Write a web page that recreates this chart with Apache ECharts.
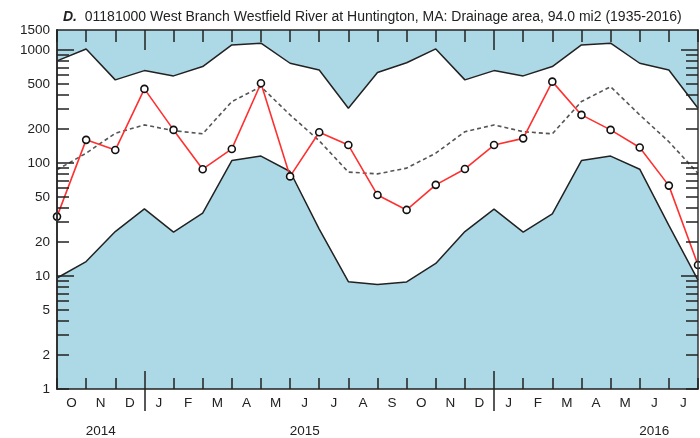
<!DOCTYPE html>
<html>
<head>
<meta charset="utf-8">
<script src="https://cdn.jsdelivr.net/npm/echarts@6/dist/echarts.min.js"></script>
<style>
  html, body { margin: 0; padding: 0; background: #fff; }
  #chart { width: 700px; height: 438px; }
</style>
</head>
<body>
<div id="chart"></div>
<script>
// month starts where the points sit (Oct 2014 .. Aug 2016)
const pointDates = ['2014-10', '2014-11', '2014-12', '2015-01', '2015-02', '2015-03', '2015-04', '2015-05',
  '2015-06', '2015-07', '2015-08', '2015-09', '2015-10', '2015-11', '2015-12', '2016-01', '2016-02',
  '2016-03', '2016-04', '2016-05', '2016-06', '2016-07', '2016-08']
// month labels sit between the ticks
const monthLabels = ['O', 'N', 'D', 'J', 'F', 'M', 'A', 'M', 'J', 'J', 'A', 'S', 'O', 'N', 'D', 'J', 'F', 'M', 'A', 'M', 'J', 'J']
const yearLabels = ['', '2014', '', '', '', '', '', '', '2015', '', '', '', '', '', '', '', '', '', '', '', '2016', '']

// flows, ft3/s
const observedFlow = [33.5, 160, 130, 452, 196, 88, 133, 507, 76, 187, 144, 52, 38.4, 64, 88.5, 144, 165, 524, 266, 196, 137, 63, 12.5]
const medianFlow = [87, 122, 183, 217, 193, 181, 349, 473, 266, 157, 83, 80, 90, 122, 189, 217, 189, 181, 349, 473, 266, 154, 81]
const maxFlow = [800, 1020, 543, 656, 589, 712, 1107, 1146, 762, 665, 305, 630, 770, 1020, 543, 656, 589, 712, 1107, 1146, 762, 665, 305]
const minFlow = [9.6, 13.4, 24.7, 39.2, 24.4, 35.9, 105, 115, 84, 26, 8.9, 8.4, 8.85, 12.9, 24.7, 39, 24.4, 35.5, 105, 115, 88, 28, 9.2]

const yTickLabels = [1, 2, 5, 10, 20, 50, 100, 200, 500, 1000, 1500]
const yTicks = [1, 2, 3, 4, 5, 6, 7, 8, 9, 10, 20, 30, 40, 50, 60, 70, 80, 90, 100, 200, 300, 400, 500, 600, 700, 800, 900, 1000]
const yDecades = [10, 100, 1000]

const FONT = 'Liberation Sans'
const INK = '#222'
const SKY = '#add8e6'

const isJan = (i) => !!pointDates[i] && pointDates[i].slice(5) === '01'

const chart = echarts.init(document.getElementById('chart'), null, { renderer: 'canvas' })

const yBase = {
  type: 'log', logBase: 10, min: 1, max: 1500, z: 10,
  splitLine: { show: false }, minorTick: { show: false },
  axisLine: { show: false }, axisLabel: { show: false }, axisTick: { show: false }
}
const tickAxis = (position, length, filter, extra) => Object.assign({
  type: 'category', position: position, data: pointDates, boundaryGap: false, z: 10,
  axisLine: { show: false, onZero: false }, axisLabel: { show: false }, splitLine: { show: false },
  axisTick: { show: true, inside: true, length: length, interval: filter, lineStyle: { color: INK, width: 1.5 } }
}, extra || {})
const bandAxis = (labels, margin) => ({
  type: 'category', position: 'bottom', data: labels, boundaryGap: true, z: 10,
  axisLine: { show: false, onZero: false }, axisTick: { show: false }, splitLine: { show: false },
  axisLabel: { show: true, interval: 0, margin: margin, color: INK, fontFamily: FONT, fontSize: 13.5 }
})

const option = {
  animation: false,
  backgroundColor: '#fff',
  title: {
    text: '{b|D.}  01181000 West Branch Westfield River at Huntington, MA: Drainage area, 94.0 mi2 (1935-2016)',
    left: 58, top: 5,
    textStyle: {
      fontFamily: FONT, fontSize: 14, fontWeight: 'normal', color: INK,
      rich: { b: { fontFamily: FONT, fontSize: 14, fontStyle: 'italic', fontWeight: 'bold', color: INK } }
    }
  },
  grid: {
    left: 57, right: 2, top: 30, bottom: 49,
    show: true, backgroundColor: SKY, borderWidth: 0,
    outerBoundsMode: 'none'
  },
  xAxis: [
    // data axis at the bottom with a tick at each month start
    tickAxis('bottom', 11, 0, { axisLine: { show: true, onZero: false, lineStyle: { color: INK, width: 1.5 } } }),
    bandAxis(monthLabels, 7),
    // year breaks, out below the axis and a little longer inside
    tickAxis('bottom', 22, (i) => isJan(i), { axisTick: { show: true, inside: false, length: 22, interval: (i) => isJan(i), lineStyle: { color: INK, width: 1.5 } } }),
    tickAxis('bottom', 18, (i) => isJan(i)),
    bandAxis(yearLabels, 35),
    tickAxis('top', 12, 0, { axisLine: { show: true, onZero: false, lineStyle: { color: INK, width: 1.5 } } }),
    tickAxis('top', 20, (i) => isJan(i))
  ],
  yAxis: [
    Object.assign({}, yBase, {
      position: 'left',
      axisLine: { show: true, lineStyle: { color: '#333', width: 2 } },
      axisLabel: {
        show: true, customValues: yTickLabels, margin: 7, color: INK, fontFamily: FONT, fontSize: 13.5,
        formatter: (v) => String(Math.round(v))
      },
      axisTick: { show: true, inside: true, length: 12, customValues: yTicks, lineStyle: { color: INK, width: 1.5 } }
    }),
    Object.assign({}, yBase, {
      position: 'left',
      axisTick: { show: true, inside: true, length: 17, customValues: yDecades, lineStyle: { color: INK, width: 1.5 } }
    }),
    Object.assign({}, yBase, {
      position: 'right',
      axisLine: { show: true, lineStyle: { color: '#333', width: 1.5 } },
      axisTick: { show: true, inside: true, length: 12, customValues: yTicks, lineStyle: { color: INK, width: 1.5 } }
    }),
    Object.assign({}, yBase, {
      position: 'right',
      axisTick: { show: true, inside: true, length: 17, customValues: yDecades, lineStyle: { color: INK, width: 1.5 } }
    })
  ],
  series: [
    {
      name: 'max', type: 'line', xAxisIndex: 0, yAxisIndex: 0, data: maxFlow, z: 2,
      symbol: 'none', lineStyle: { color: INK, width: 1.5 },
      areaStyle: { color: '#fff', opacity: 1, origin: 'start' }
    },
    {
      name: 'min', type: 'line', xAxisIndex: 0, yAxisIndex: 0, data: minFlow, z: 3,
      symbol: 'none', lineStyle: { color: INK, width: 1.5 },
      areaStyle: { color: SKY, opacity: 1, origin: 'start' }
    },
    {
      name: 'median', type: 'line', xAxisIndex: 0, yAxisIndex: 0, data: medianFlow, z: 4,
      symbol: 'none', lineStyle: { color: '#555', width: 1.6, type: [4, 3] }
    },
    {
      name: 'observed', type: 'line', xAxisIndex: 0, yAxisIndex: 0, data: observedFlow, z: 5,
      symbol: 'circle', symbolSize: 7,
      lineStyle: { color: '#ff3030', width: 1.6 },
      itemStyle: { color: '#fff', borderColor: '#111', borderWidth: 1.6 }
    }
  ]
}

chart.setOption(option)
</script>
</body>
</html>
